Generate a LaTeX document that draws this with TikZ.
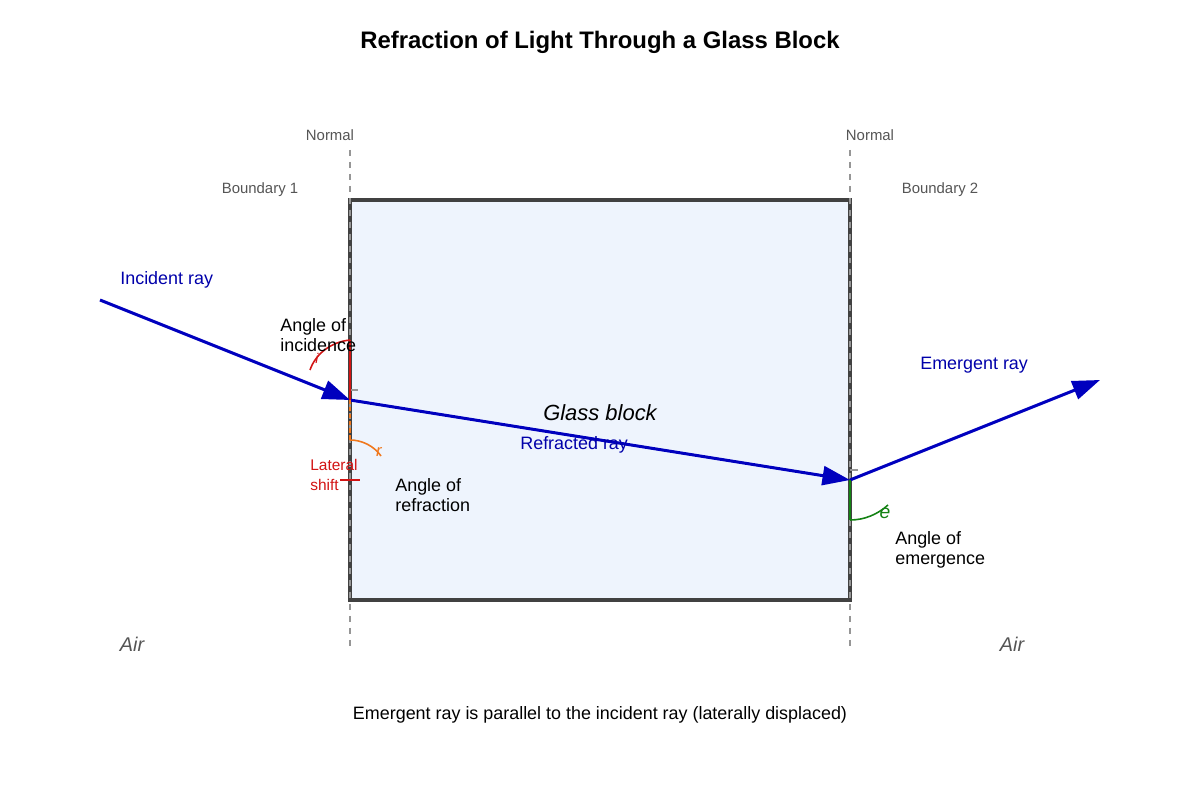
\documentclass[tikz,border=0pt]{standalone}
\usepackage{fontspec}
\setmainfont{Liberation Sans}
\usetikzlibrary{arrows.meta}
\definecolor{raycol}{RGB}{0,0,190}
\definecolor{raytext}{RGB}{0,0,170}
\definecolor{glassfill}{RGB}{238,244,253}
\definecolor{edgecol}{RGB}{65,65,65}
\definecolor{normcol}{RGB}{150,150,150}
\definecolor{labgray}{RGB}{85,85,85}
\definecolor{angred}{RGB}{210,20,20}
\definecolor{angorange}{RGB}{240,120,30}
\definecolor{anggreen}{RGB}{20,130,20}
\tikzset{
  ray/.style={draw=raycol,line width=1.7pt,-{Triangle[length=5.5mm,width=3.8mm]}},
  normalline/.style={draw=normcol,line width=1.1pt,dash pattern=on 3.4pt off 3.4pt},
  tick/.style={draw=normcol,line width=0.7pt},
  body/.style={font=\fontsize{10.2}{11.3}\selectfont,align=left,inner sep=0pt},
  small/.style={font=\fontsize{8.5}{9.5}\selectfont,text=labgray,inner sep=0pt},
}
\begin{document}
\begin{tikzpicture}[x=0.02cm,y=-0.02cm]
	\useasboundingbox (0,0) rectangle (1200,800);

	% glass block and normals
	\draw[fill=glassfill,draw=edgecol,line width=2pt] (350,200) rectangle (850,600);
	\coordinate (n1t) at (350,150);
	\coordinate (n1b) at (350,650);
	\coordinate (n2t) at (850,150);
	\coordinate (n2b) at (850,650);
	\draw[normalline] (n1t)--(n1b);
	\draw[normalline] (n2t)--(n2b);

	% rays
	\coordinate (src) at (100,300);
	\coordinate (in) at (350,400);
	\coordinate (out) at (850,480);
	\coordinate (end) at (1100,380);
	\draw[ray] (src)--(in);
	\draw[ray] (in)--(out);
	\draw[ray] (out)--(end);

	% small marks
	\draw[tick] (350,390)--(358,390);
	\draw[tick] (850,470)--(858,470);

	% angle of incidence
	\draw[angred,line width=1.2pt] (350,340)--(in);
	\draw[angred,line width=0.9pt] (350,340) .. controls (330,342) and (315,355) .. (310,370);
	\node[text=angred,font=\fontsize{8}{9}\itshape] (ilab) at (317,358) {i};

	% angle of refraction
	\draw[angorange,line width=1.3pt,dash pattern=on 2.5pt off 1.5pt] (in)--(350,440);
	\draw[angorange,line width=0.9pt] (350,440) .. controls (362,440) and (374,446) .. (381,456);
	\node[text=angorange,font=\fontsize{9.5}{10}\itshape] (rlab) at (379,452) {r};

	% lateral shift
	\draw[angred,line width=0.8pt] (340,480)--(360,480);
	\node[body,text=angred,font=\fontsize{8.8}{11.5}\selectfont,anchor=west] (shift) at (310,475) {Lateral\\shift};

	% angle of emergence
	\draw[anggreen,line width=1.2pt] (out)--(850,520);
	\draw[anggreen,line width=0.9pt] (850,520) .. controls (865,520) and (878,514) .. (888,505);
	\node[text=anggreen,font=\fontsize{11}{12}\itshape] (elab) at (885,513) {e};

	% labels
	\node[font=\bfseries\fontsize{13.6}{15}\selectfont] (title) at (600,42) {Refraction of Light Through a Glass Block};
	\node[small] (norm1) at (330,135) {Normal};
	\node[small] (norm2) at (870,135) {Normal};
	\node[small] (bnd1) at (260,190) {Boundary 1};
	\node[small] (bnd2) at (940,190) {Boundary 2};
	\node[body,text=raytext,anchor=west] (inc) at (120,280) {Incident ray};
	\node[body,anchor=west] (aoi) at (280,335) {Angle of\\incidence};
	\node[font=\itshape\fontsize{12.5}{14}\selectfont] (glass) at (600,413) {Glass block};
	\node[body,text=raytext,anchor=west] (refr) at (520,445) {Refracted ray};
	\node[body,anchor=west] (aor) at (395,495) {Angle of\\refraction};
	\node[body,text=raytext,anchor=west] (emer) at (920,365) {Emergent ray};
	\node[body,anchor=west] (aoe) at (895,550) {Angle of\\emergence};
	\node[font=\itshape\fontsize{11.3}{12}\selectfont,text=labgray] (air1) at (132,644) {Air};
	\node[font=\itshape\fontsize{11.3}{12}\selectfont,text=labgray] (air2) at (1012,644) {Air};
	\node[body] (note) at (600,715) {Emergent ray is parallel to the incident ray (laterally displaced)};
\end{tikzpicture}
\end{document}
